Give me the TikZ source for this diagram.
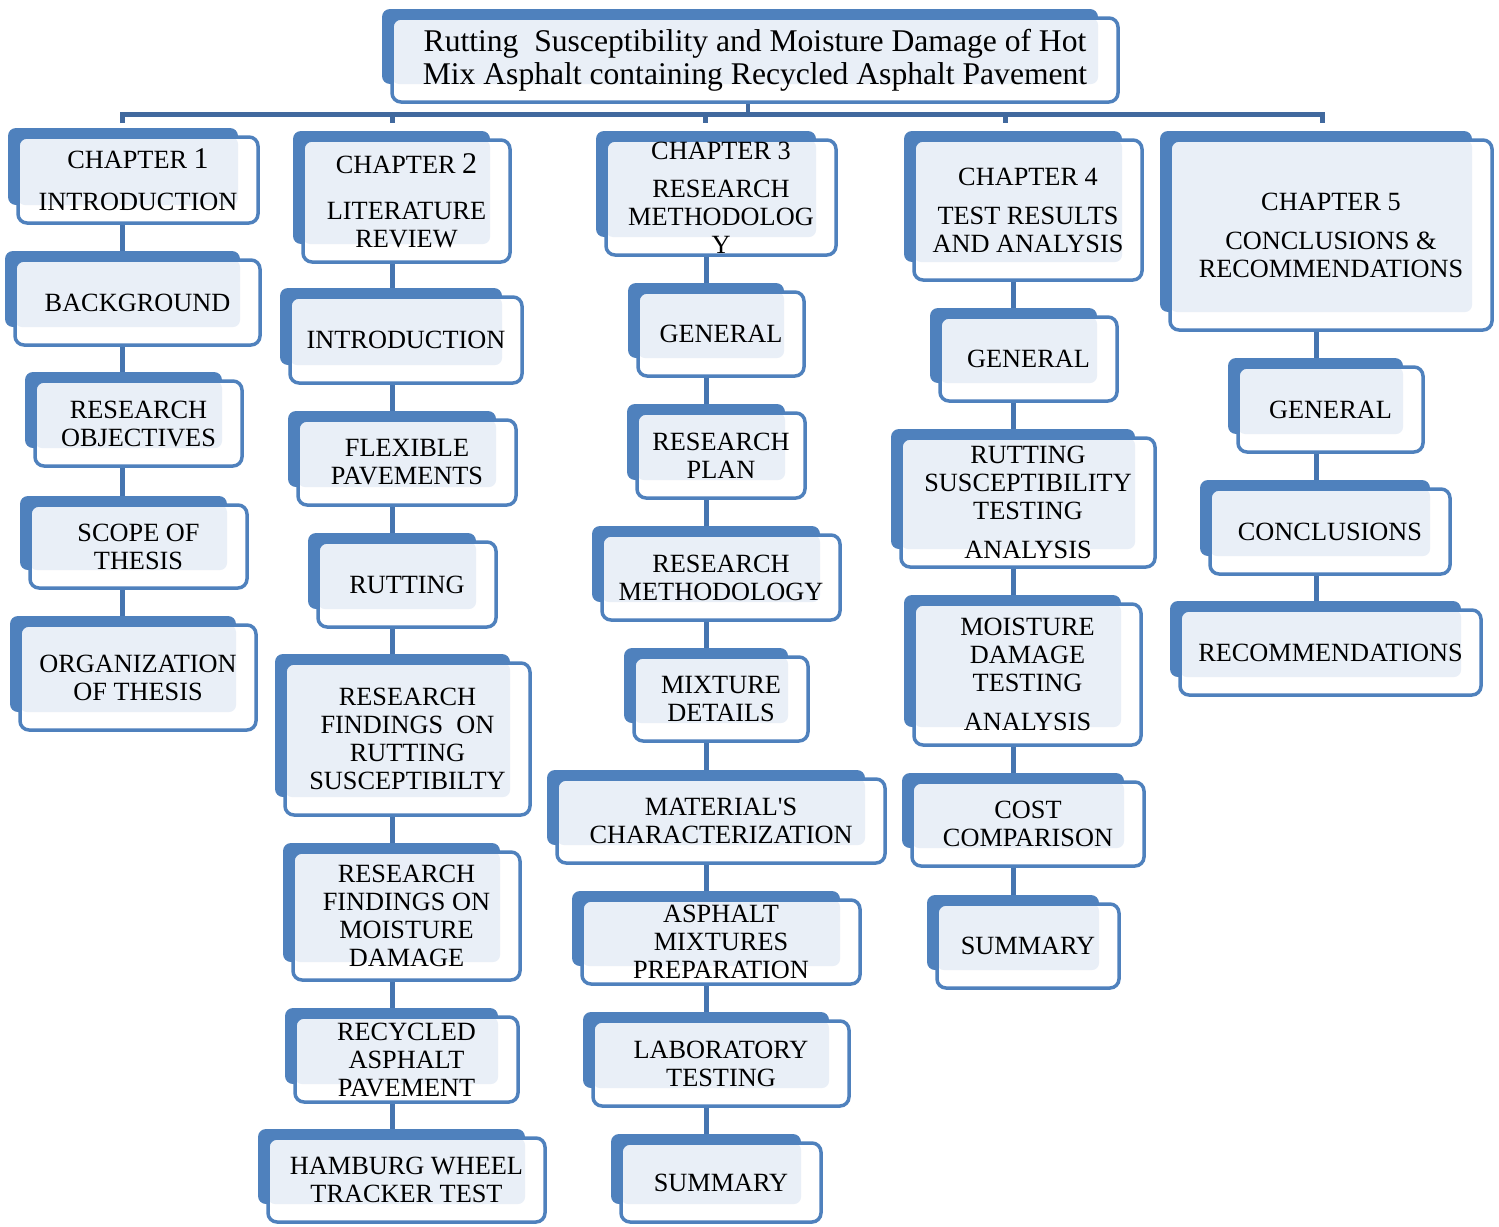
\documentclass[tikz,border=0pt]{standalone}
\usepackage{fontspec}
\setmainfont{Liberation Serif}
\usetikzlibrary{backgrounds}
\definecolor{boxblue}{HTML}{4F81BD}
\definecolor{paleblue}{HTML}{E9EFF7}
\definecolor{busblue}{HTML}{41699E}
\definecolor{linkblue}{HTML}{4675B0}

\tikzset{
  stagebox/.style={draw=boxblue, line width=3.5pt, fill=white, rounded corners=9pt,
    path picture={\fill[paleblue, rounded corners=7pt]
      (path picture bounding box.north west) rectangle
      ([xshift=-20pt,yshift=18pt]path picture bounding box.south east);}},
  stagetext/.style={align=center, font=\fontsize{26.3}{28}\selectfont, inner sep=0pt},
  titletext/.style={align=center, font=\fontsize{31.6}{33}\selectfont, inner sep=0pt},
  backplate/.style={fill=boxblue, rounded corners=8pt},
  link/.style={draw=linkblue, line width=5pt},
  bus/.style={draw=busblue, line width=5pt},
}

% back plate, front box and its text
\newcommand{\stage}[7][stagetext]{%
  \fill[backplate] (#3-10,#4-9) rectangle (#5-20,#6-18);
  \node[stagebox, minimum width={#5-#3}, minimum height={#6-#4},
        label={[#1]center:{#7}}] (#2) at ({(#3+#5)/2},{(#4+#6)/2}) {};
}
\newcommand{\bignum}[1]{{\fontsize{30}{28}\selectfont #1}}

\begin{document}
\begin{tikzpicture}[x=1pt, y=-1pt]
\useasboundingbox (0,0) rectangle (1499,1226);

\stage[titletext]{title}{392}{18}{1118}{102}{Rutting\ \ Susceptibility and Moisture Damage of Hot\\Mix Asphalt containing Recycled Asphalt Pavement}

% chapter 1
\stage{chone}{18}{137}{258}{223}{CHAPTER \bignum{1}\\[14pt]INTRODUCTION}
\stage{background}{15}{260}{260}{345}{BACKGROUND}
\stage{objectives}{35}{381}{242}{466}{RESEARCH\\OBJECTIVES}
\stage{scope}{30}{505}{247}{588}{SCOPE OF\\THESIS}
\stage{organization}{20}{625}{256}{730}{ORGANIZATION\\OF THESIS}

% chapter 2
\stage{chtwo}{303}{140}{510}{262}{CHAPTER \bignum{2}\\[18pt]LITERATURE\\REVIEW}
\stage{litintro}{290}{297}{522}{383}{INTRODUCTION}
\stage{flexible}{298}{420}{516}{505}{FLEXIBLE\\PAVEMENTS}
\stage{rutting}{318}{542}{496}{627}{RUTTING}
\stage{findrut}{285}{663}{530}{815}{RESEARCH\\FINDINGS\ \ ON\\RUTTING\\SUSCEPTIBILTY}
\stage{findmoist}{293}{852}{520}{980}{RESEARCH\\FINDINGS ON\\MOISTURE\\DAMAGE}
\stage{rap}{295}{1017}{518}{1102}{RECYCLED\\ASPHALT\\PAVEMENT}
\stage{hamburg}{268}{1138}{545}{1222}{HAMBURG WHEEL\\TRACKER TEST}

% chapter 3
\stage{chthree}{606}{140}{836}{255}{CHAPTER 3\\[10pt]RESEARCH\\METHODOLOG\\Y}
\stage{genthree}{638}{292}{804}{376}{GENERAL}
\stage{plan}{637}{413}{805}{498}{RESEARCH\\PLAN}
\stage{method}{602}{535}{840}{620}{RESEARCH\\METHODOLOGY}
\stage{mixture}{634}{657}{808}{741}{MIXTURE\\DETAILS}
\stage{material}{557}{779}{885}{863}{MATERIAL\textquotesingle S\\CHARACTERIZATION}
\stage{prep}{582}{900}{860}{984}{ASPHALT\\MIXTURES\\PREPARATION}
\stage{lab}{593}{1021}{849}{1106}{LABORATORY\\TESTING}
\stage{summthree}{621}{1143}{821}{1222}{SUMMARY}

% chapter 4
\stage{chfour}{914}{140}{1142}{280}{CHAPTER 4\\[11pt]TEST RESULTS\\AND ANALYSIS}
\stage{genfour}{940}{317}{1117}{401}{GENERAL}
\stage{rutanal}{901}{438}{1155}{567}{RUTTING\\SUSCEPTIBILITY\\TESTING\\[11pt]ANALYSIS}
\stage{moistanal}{914}{604}{1141}{745}{MOISTURE\\DAMAGE\\TESTING\\[11pt]ANALYSIS}
\stage{cost}{912}{782}{1144}{866}{COST\\COMPARISON}
\stage{summfour}{937}{904}{1119}{988}{SUMMARY}

% chapter 5
\stage{chfive}{1170}{140}{1492}{330}{CHAPTER 5\\[11pt]CONCLUSIONS \&\\RECOMMENDATIONS}
\stage{genfive}{1238}{367}{1423}{452}{GENERAL}
\stage{concl}{1210}{489}{1450}{574}{CONCLUSIONS}
\stage{recom}{1180}{610}{1481}{695}{RECOMMENDATIONS}

\coordinate (colone) at (122,114);
\coordinate (coltwo) at (392,114);
\coordinate (colthree) at (706,114);
\coordinate (colfour) at (1013,114);
\coordinate (colfive) at (1316,114);
\coordinate (hub) at (748,114);

\begin{pgfonlayer}{background}
\draw[bus] (122,123) -- (122,114) -- (1322,114) -- (1322,123);
\foreach \x in {392,705,1005}
  \draw[bus] (\x,114) -- (\x,123);
\draw[bus, line width=4pt] (title.south -| hub) -- (hub);

\foreach \a/\b in {chone/background, background/objectives, objectives/scope, scope/organization}
  \draw[link] (\a.south -| colone) -- (\b.north -| colone);
\foreach \a/\b in {chtwo/litintro, litintro/flexible, flexible/rutting, rutting/findrut,
                   findrut/findmoist, findmoist/rap, rap/hamburg}
  \draw[link] (\a.south -| coltwo) -- (\b.north -| coltwo);
\foreach \a/\b in {chthree/genthree, genthree/plan, plan/method, method/mixture,
                   mixture/material, material/prep, prep/lab, lab/summthree}
  \draw[link] (\a.south -| colthree) -- (\b.north -| colthree);
\foreach \a/\b in {chfour/genfour, genfour/rutanal, rutanal/moistanal, moistanal/cost, cost/summfour}
  \draw[link] (\a.south -| colfour) -- (\b.north -| colfour);
\foreach \a/\b in {chfive/genfive, genfive/concl, concl/recom}
  \draw[link] (\a.south -| colfive) -- (\b.north -| colfive);
\end{pgfonlayer}
\end{tikzpicture}
\end{document}
